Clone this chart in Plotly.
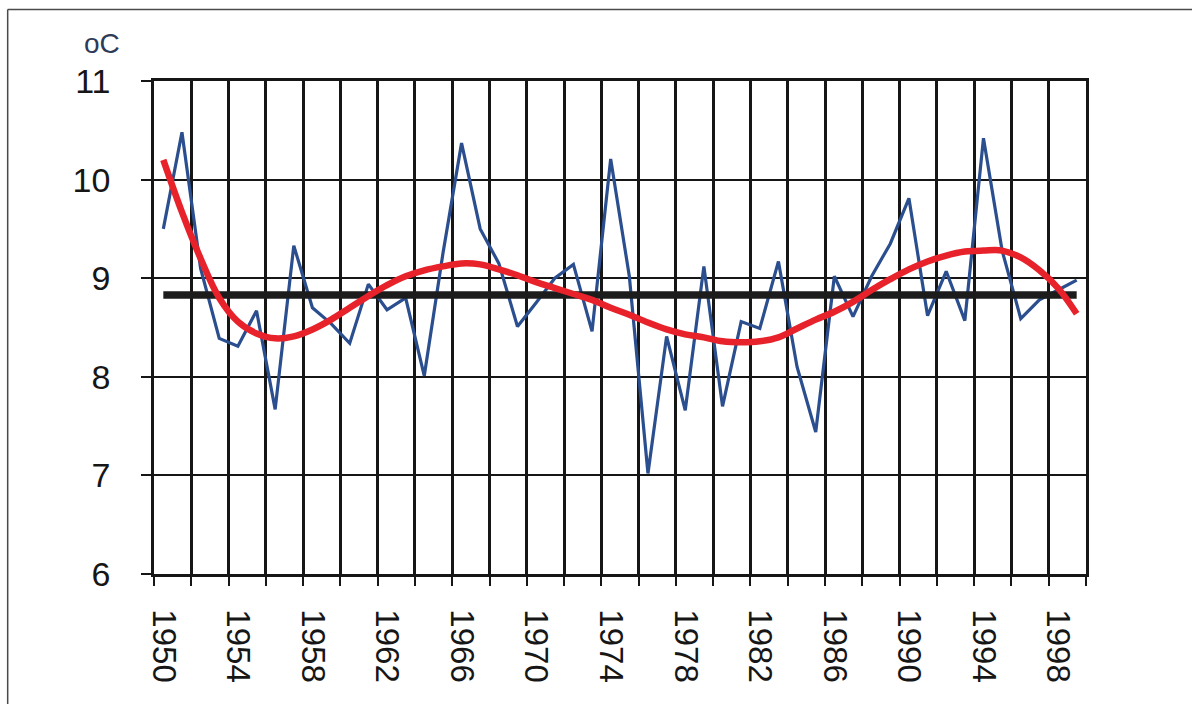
import numpy as np
import plotly.graph_objects as go

# Annual mean air temperature, 1950-1999 (°C)
years = list(range(1950, 2000))
temps = [
    9.50, 10.48, 9.10, 8.39, 8.31, 8.67, 7.67, 9.33, 8.70, 8.54,
    8.34, 8.94, 8.68, 8.80, 8.01, 9.25, 10.37, 9.50, 9.15, 8.51,
    8.75, 9.00, 9.14, 8.46, 10.21, 9.02, 7.02, 8.41, 7.66, 9.12,
    7.70, 8.56, 8.49, 9.17, 8.10, 7.44, 9.02, 8.61, 9.02, 9.35,
    9.81, 8.62, 9.07, 8.57, 10.42, 9.28, 8.59, 8.78, 8.88, 8.98,
]
# Smoothed polynomial trend
trend = [
    10.20, 9.67, 9.20, 8.80, 8.56, 8.44, 8.39, 8.41, 8.48, 8.58,
    8.70, 8.82, 8.93, 9.02, 9.08, 9.12, 9.15, 9.14, 9.09, 9.03,
    8.96, 8.90, 8.84, 8.78, 8.70, 8.63, 8.55, 8.48, 8.43, 8.40,
    8.36, 8.35, 8.36, 8.40, 8.49, 8.58, 8.66, 8.76, 8.88, 8.99,
    9.09, 9.17, 9.23, 9.27, 9.28, 9.28, 9.21, 9.08, 8.90, 8.64,
]
label_years = list(range(1950, 2000, 4))
y_ticks = [6, 7, 8, 9, 10, 11]

mean_temp = float(np.mean(temps))

FONT = "Liberation Sans, Arial, sans-serif"
INK = "#161616"

fig = go.Figure()
fig.add_trace(go.Scatter(
    x=years, y=temps, mode="lines",
    line=dict(color="#2b4e8e", width=3.2),
    hoverinfo="x+y",
))
fig.add_trace(go.Scatter(
    x=[years[0], years[-1]], y=[mean_temp, mean_temp], mode="lines",
    line=dict(color="#1c1c1c", width=7.5),
))
fig.add_trace(go.Scatter(
    x=years, y=trend, mode="lines",
    line=dict(color="#e8222b", width=6.5, shape="spline", smoothing=1.0),
))

fig.update_layout(
    width=1192, height=704,
    margin=dict(l=154, r=106, t=81, b=130, pad=0),
    paper_bgcolor="white", plot_bgcolor="white",
    showlegend=False,
    font=dict(family=FONT, color=INK),
    xaxis=dict(
        automargin=False,
        range=[years[0] - 0.5, years[-1] + 0.5],
        tickmode="array",
        tickvals=label_years,
        ticktext=[str(y) for y in label_years],
        tickangle=90,
        ticks="",
        ticklabelstandoff=26,
        tickfont=dict(size=33, family=FONT, color=INK),
        showgrid=False,
        zeroline=False,
        showline=True, linecolor=INK, linewidth=2.5, mirror=True,
        minor=dict(
            tick0=years[0] - 0.5, dtick=2,
            ticks="outside", ticklen=9, tickwidth=2, tickcolor=INK,
            showgrid=True, gridcolor=INK, gridwidth=2.6,
        ),
    ),
    yaxis=dict(
        automargin=False,
        range=[y_ticks[0], y_ticks[-1]],
        tickmode="array",
        tickvals=y_ticks,
        ticktext=[str(v) for v in y_ticks],
        ticks="outside", ticklen=10, tickwidth=2, tickcolor=INK,
        ticklabelstandoff=24,
        tickfont=dict(size=34, family=FONT, color=INK),
        showgrid=True, gridcolor=INK, gridwidth=2.2,
        zeroline=False,
        showline=True, linecolor=INK, linewidth=2.5, mirror=True,
    ),
)

# Unit label above the value axis
fig.add_annotation(
    text="oC", xref="paper", yref="paper",
    x=-0.056, y=1.077, xanchor="center", yanchor="middle",
    showarrow=False,
    font=dict(size=28, family=FONT, color="#2e3b58"),
)

# Outer frame (top and left edges)
fig.add_shape(type="line", xref="paper", yref="paper",
              x0=-0.157, x1=1.12, y0=1.145, y1=1.145,
              line=dict(color="#4a4a4a", width=1.5))
fig.add_shape(type="line", xref="paper", yref="paper",
              x0=-0.157, x1=-0.157, y0=1.145, y1=-0.27,
              line=dict(color="#4a4a4a", width=1.5))

fig.write_html("out.html")
